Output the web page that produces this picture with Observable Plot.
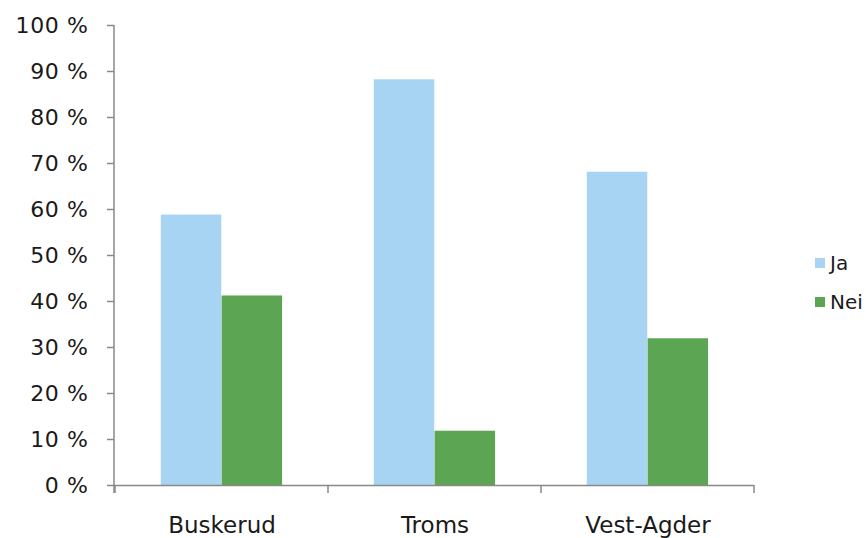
<!DOCTYPE html>
<html><head><meta charset="utf-8">
<script src="https://cdn.jsdelivr.net/npm/d3@7"></script>
<script src="https://cdn.jsdelivr.net/npm/@observablehq/plot@0.6"></script>
<style>
body{margin:0;background:#fff;font-family:"DejaVu Sans",Verdana,sans-serif;}
#wrap{position:relative;width:866px;height:538px;overflow:hidden;}
#legend{position:absolute;left:815px;top:243px;font-size:20px;color:#1a1a1a;}
.item{display:flex;align-items:center;height:39px;white-space:nowrap;}
.sw{width:10px;height:10px;margin-right:5px;flex:none;}
</style></head><body>
<div id="wrap"><div id="chart"></div><div id="legend"></div></div>
<script>
const categories = ["Buskerud", "Troms", "Vest-Agder"];
const series = ["Ja", "Nei"];
const jaValues = [58.8, 88.2, 68.1];
const neiValues = [41.2, 11.8, 31.9];
const yTicks = [0, 10, 20, 30, 40, 50, 60, 70, 80, 90, 100];
const colors = ["#a8d4f4", "#5ca552"];

const data = categories.flatMap((c, i) => [
  {cat: c, series: "Ja", value: jaValues[i]},
  {cat: c, series: "Nei", value: neiValues[i]}
]);

const W = 866, H = 538, mL = 114, mR = 112, mT = 25, mB = 53;
const band = (W - mL - mR) / categories.length;
const outer = 45.8, barW = 60.8;
const axisColor = "#898989";

const boundaryTicks = (index, scales, values, dims) => {
  const g = d3.create("svg:g").attr("stroke", axisColor).attr("stroke-width", 1.5).attr("fill", "none");
  const x0 = dims.marginLeft, x1 = dims.width - dims.marginRight;
  const y0 = dims.height - dims.marginBottom;
  g.append("line").attr("x1", x0).attr("x2", x0).attr("y1", dims.marginTop).attr("y2", y0 + 8);
  const edges = categories.map(c => scales.x(c)).concat([x1]);
  edges.forEach(e => g.append("line").attr("x1", e).attr("x2", e).attr("y1", y0).attr("y2", y0 + 8));
  return g.node();
};

const plot = Plot.plot({
  width: W, height: H,
  marginLeft: mL, marginRight: mR, marginTop: mT, marginBottom: mB,
  style: {fontFamily: "'DejaVu Sans', Verdana, sans-serif", color: "#1a1a1a", background: "#fff"},
  x: {domain: categories, paddingInner: 0, paddingOuter: 0, axis: null},
  y: {domain: [0, 100], axis: null},
  marks: [
    Plot.barY(data.filter(d => d.series === "Ja"), {x: "cat", y: "value", fill: colors[0], insetLeft: outer, insetRight: band - outer - barW}),
    Plot.barY(data.filter(d => d.series === "Nei"), {x: "cat", y: "value", fill: colors[1], insetLeft: outer + barW, insetRight: band - outer - 2 * barW}),
    Plot.ruleY([0], {stroke: axisColor, strokeWidth: 1.5}),
    Plot.axisY({ticks: yTicks, tickFormat: d => d + " %", tickSize: 7, tickPadding: 19, fontSize: 22, stroke: axisColor, strokeWidth: 1.5, label: null}),
    Plot.axisX({tickSize: 0, tickPadding: 31, fontSize: 23, label: null}),
    boundaryTicks
  ]
});
plot.querySelectorAll("[aria-label='y-axis tick label'] text").forEach(t => t.setAttribute("letter-spacing", "0.6"));
document.getElementById("chart").appendChild(plot);

const legend = d3.select("#legend");
series.forEach((s, i) => {
  const it = legend.append("div").attr("class", "item");
  it.append("div").attr("class", "sw").style("background", colors[i]);
  it.append("span").text(s);
});
</script>
</body></html>
